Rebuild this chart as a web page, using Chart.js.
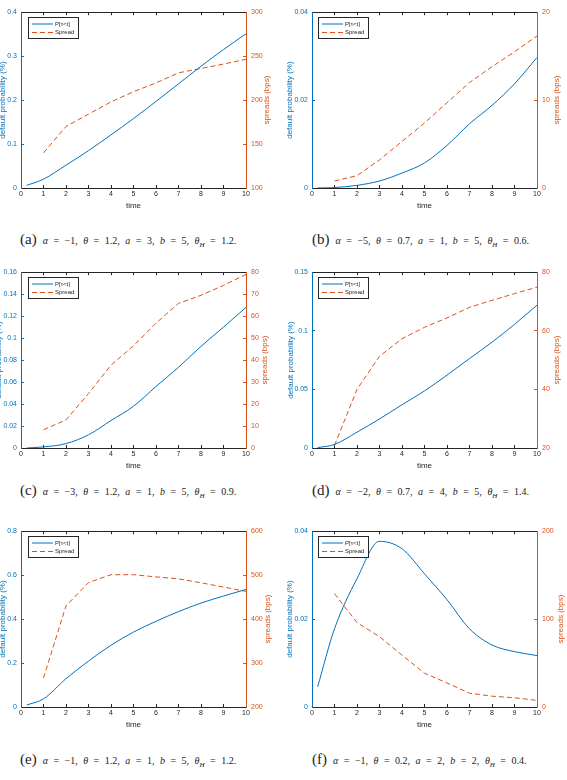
<!DOCTYPE html>
<html>
<head>
<meta charset="utf-8">
<script src="https://cdn.jsdelivr.net/npm/chart.js@4.4.1/dist/chart.umd.min.js"></script>
<style>
  html, body { margin: 0; padding: 0; background: #fff; }
  #page { position: relative; width: 567px; height: 780px; overflow: hidden; }
  .panel { position: absolute; }
  .caption { position: absolute; font-family: "Liberation Serif", "DejaVu Serif", serif; color: #222; white-space: nowrap; line-height: 20px; }
  .caption .tag { font-size: 15px; }
  .caption .eq { font-size: 10px; margin-left: 6px; word-spacing: 3px; }
  .caption sub { font-size: 7px; }
</style>
</head>
<body>
<div id="page">
  <canvas id="chartA" class="panel" style="left:0px;top:0px" width="285" height="215"></canvas>
  <canvas id="chartB" class="panel" style="left:285px;top:0px" width="282" height="215"></canvas>
  <canvas id="chartC" class="panel" style="left:0px;top:260px" width="285" height="215"></canvas>
  <canvas id="chartD" class="panel" style="left:285px;top:260px" width="282" height="215"></canvas>
  <canvas id="chartE" class="panel" style="left:0px;top:519px" width="285" height="215"></canvas>
  <canvas id="chartF" class="panel" style="left:285px;top:519px" width="282" height="215"></canvas>

  <div class="caption" style="left:20px;top:229px"><span class="tag">(a)</span><span class="eq"><i>α</i> = −1, <i>θ</i> = 1.2, <i>a</i> = 3, <i>b</i> = 5, <i>θ<sub>H</sub></i> = 1.2.</span></div>
  <div class="caption" style="left:312px;top:229px"><span class="tag">(b)</span><span class="eq"><i>α</i> = −5, <i>θ</i> = 0.7, <i>a</i> = 1, <i>b</i> = 5, <i>θ<sub>H</sub></i> = 0.6.</span></div>
  <div class="caption" style="left:20px;top:480px"><span class="tag">(c)</span><span class="eq"><i>α</i> = −3, <i>θ</i> = 1.2, <i>a</i> = 1, <i>b</i> = 5, <i>θ<sub>H</sub></i> = 0.9.</span></div>
  <div class="caption" style="left:312px;top:480px"><span class="tag">(d)</span><span class="eq"><i>α</i> = −2, <i>θ</i> = 0.7, <i>a</i> = 4, <i>b</i> = 5, <i>θ<sub>H</sub></i> = 1.4.</span></div>
  <div class="caption" style="left:20px;top:749px"><span class="tag">(e)</span><span class="eq"><i>α</i> = −1, <i>θ</i> = 1.2, <i>a</i> = 1, <i>b</i> = 5, <i>θ<sub>H</sub></i> = 1.2.</span></div>
  <div class="caption" style="left:312px;top:749px"><span class="tag">(f)</span><span class="eq"><i>α</i> = −1, <i>θ</i> = 0.2, <i>a</i> = 2, <i>b</i> = 2, <i>θ<sub>H</sub></i> = 0.4.</span></div>
</div>

<script>
// time grids
const timeP = [0.25, 1, 2, 3, 4, 5, 6, 7, 8, 9, 10];
const timeS = [1, 2, 3, 4, 5, 6, 7, 8, 9, 10];

// default probability P[tau<t] (%) per panel
const probA = [0.006, 0.02, 0.052, 0.085, 0.121, 0.158, 0.197, 0.237, 0.277, 0.315, 0.351];
const probB = [0, 0.0001, 0.0006, 0.0016, 0.0034, 0.0057, 0.0097, 0.0146, 0.0188, 0.0237, 0.0297];
const probC = [0, 0.001, 0.004, 0.012, 0.025, 0.038, 0.056, 0.0735, 0.0925, 0.110, 0.128];
const probD = [0.0003, 0.003, 0.0135, 0.0248, 0.0369, 0.0487, 0.0622, 0.0763, 0.0903, 0.1055, 0.1219];
const probE = [0.009, 0.037, 0.129, 0.209, 0.281, 0.341, 0.39, 0.434, 0.473, 0.505, 0.535];
const probF = [0.0046, 0.0178, 0.0292, 0.0377, 0.036, 0.0303, 0.0244, 0.0178, 0.0141, 0.0126, 0.0117];

// spreads (bps) per panel
const spreadA = [140, 170, 184, 198, 209.5, 219.6, 231, 236, 241, 246.5];
const spreadB = [0.8, 1.4, 3.2, 5.3, 7.4, 9.7, 12.0, 13.8, 15.5, 17.3];
const spreadC = [8.3, 12.8, 24.8, 37.7, 46.5, 56.8, 65.8, 69.5, 74, 79];
const spreadD = [20.9, 40, 51.3, 57.3, 61.2, 64.4, 68, 70.4, 72.7, 74.9];
const spreadE = [266, 430, 483, 501, 501, 496, 491.6, 482.6, 473, 463];
const spreadF = [129, 96, 80, 59, 38.5, 27.3, 15.7, 12.3, 10.5, 7.5];

// axis ranges [min, max, step]
const probAxisA = [0, 0.4, 0.1],   spreadAxisA = [100, 300, 50];
const probAxisB = [0, 0.04, 0.02], spreadAxisB = [0, 20, 10];
const probAxisC = [0, 0.16, 0.02], spreadAxisC = [0, 80, 10];
const probAxisD = [0, 0.15, 0.05], spreadAxisD = [20, 80, 20];
const probAxisE = [0, 0.8, 0.2],   spreadAxisE = [200, 600, 100];
const probAxisF = [0, 0.04, 0.02], spreadAxisF = [0, 200, 100];

const BLUE = '#0072BD';
const ORANGE = '#D95319';
const DARK = '#262626';

Chart.defaults.font.family = '"Liberation Sans", Arial, sans-serif';

const fmt = v => String(+Number(v).toFixed(4));

// right-hand axis title, reads bottom to top like the left one
const rightTitle = {
    id: 'rightTitle',
    afterDraw(chart, args, opts) {
        const { ctx, chartArea } = chart;
        ctx.save();
        ctx.translate(chartArea.right + opts.offset, (chartArea.top + chartArea.bottom) / 2);
        ctx.rotate(-Math.PI / 2);
        ctx.font = '8px "Liberation Sans", Arial, sans-serif';
        ctx.fillStyle = ORANGE;
        ctx.textAlign = 'center';
        ctx.textBaseline = 'middle';
        ctx.fillText(opts.text, 0, 0);
        ctx.restore();
    }
};

// boxed legend in the upper-left corner of the plot
const boxLegend = {
    id: 'boxLegend',
    afterDatasetsDraw(chart, args, opts) {
        const { ctx, chartArea } = chart;
        const x = Math.round(chartArea.left + opts.dx);
        const y = Math.round(chartArea.top + 5);
        const w = 50, h = 21;
        ctx.save();
        ctx.fillStyle = '#fff';
        ctx.fillRect(x, y, w, h);
        ctx.strokeStyle = DARK;
        ctx.lineWidth = 1;
        ctx.strokeRect(x + 0.5, y + 0.5, w, h);
        chart.data.datasets.forEach((ds, i) => {
            const ly = y + 7 + i * 8.5;
            ctx.strokeStyle = ds.borderColor;
            ctx.setLineDash(ds.borderDash || []);
            ctx.beginPath();
            ctx.moveTo(x + 4, ly);
            ctx.lineTo(x + 25, ly);
            ctx.stroke();
            ctx.setLineDash([]);
            ctx.fillStyle = DARK;
            ctx.font = '6px "Liberation Sans", Arial, sans-serif';
            ctx.textBaseline = 'middle';
            ctx.fillText(ds.label, x + 27, ly);
        });
        ctx.restore();
    }
};

function tickGrid(color) {
    return { drawOnChartArea: false, drawTicks: true, tickLength: -3, color: color, lineWidth: 1 };
}

function makeChart(p) {
    const canvas = document.getElementById(p.id);
    const rightW = canvas.width - p.leftW - 225;
    return new Chart(canvas, {
        type: 'line',
        data: {
            datasets: [
                {
                    label: 'P[τ<t]',
                    data: timeP.map((t, i) => ({ x: t, y: p.prob[i] })),
                    yAxisID: 'yP',
                    borderColor: BLUE,
                    borderWidth: 1,
                    pointRadius: 0,
                    cubicInterpolationMode: 'monotone',
                    fill: false
                },
                {
                    label: 'Spread',
                    data: timeS.map((t, i) => ({ x: t, y: p.spread[i] })),
                    yAxisID: 'yS',
                    borderColor: ORANGE,
                    borderWidth: 1,
                    borderDash: [5, 3],
                    pointRadius: 0,
                    tension: 0,
                    fill: false
                }
            ]
        },
        options: {
            responsive: false,
            animation: false,
            layout: { padding: { top: 10, left: 0, right: 0, bottom: 0 } },
            plugins: {
                legend: { display: false },
                tooltip: { enabled: false },
                boxLegend: { dx: p.legendDx },
                rightTitle: { text: 'spreads (bps)', offset: p.rightTitleOffset }
            },
            scales: {
                x: {
                    type: 'linear',
                    position: 'bottom',
                    min: 0, max: 10,
                    ticks: { stepSize: 1, color: DARK, font: { size: 7 }, padding: 5, callback: fmt },
                    grid: tickGrid(DARK),
                    border: { color: DARK, width: 1 },
                    title: { display: true, text: 'time', color: DARK, font: { size: 8 }, padding: { top: 0, bottom: 4 } },
                    afterFit: s => { s.height = 27; }
                },
                xTop: {
                    type: 'linear',
                    position: 'top',
                    min: 0, max: 10,
                    ticks: { display: false, stepSize: 1 },
                    grid: tickGrid(DARK),
                    border: { color: DARK, width: 1 },
                    afterFit: s => { s.height = 0; }
                },
                yP: {
                    type: 'linear',
                    position: 'left',
                    min: p.probAxis[0], max: p.probAxis[1],
                    ticks: { stepSize: p.probAxis[2], color: BLUE, font: { size: 7 }, padding: 7, callback: fmt },
                    grid: tickGrid(BLUE),
                    border: { color: BLUE, width: 1 },
                    title: { display: true, text: 'default probability (%)', color: BLUE, font: { size: 8 }, padding: { top: p.leftTitlePad, bottom: 0 } },
                    afterFit: s => { s.width = p.leftW; }
                },
                yS: {
                    type: 'linear',
                    position: 'right',
                    min: p.spreadAxis[0], max: p.spreadAxis[1],
                    ticks: { stepSize: p.spreadAxis[2], color: ORANGE, font: { size: 7 }, padding: 8, callback: fmt },
                    grid: tickGrid(ORANGE),
                    border: { color: ORANGE, width: 1 },
                    afterFit: s => { s.width = rightW; }
                }
            }
        },
        plugins: [boxLegend, rightTitle]
    });
}

const panels = [
    { id: 'chartA', prob: probA, spread: spreadA, probAxis: probAxisA, spreadAxis: spreadAxisA, leftW: 21, leftTitlePad: -2, legendDx: 7, rightTitleOffset: 21 },
    { id: 'chartB', prob: probB, spread: spreadB, probAxis: probAxisB, spreadAxis: spreadAxisB, leftW: 27, leftTitlePad: 0, legendDx: 6, rightTitleOffset: 20 },
    { id: 'chartC', prob: probC, spread: spreadC, probAxis: probAxisC, spreadAxis: spreadAxisC, leftW: 21, leftTitlePad: -6, legendDx: 7, rightTitleOffset: 19 },
    { id: 'chartD', prob: probD, spread: spreadD, probAxis: probAxisD, spreadAxis: spreadAxisD, leftW: 27, leftTitlePad: 1, legendDx: 6, rightTitleOffset: 20 },
    { id: 'chartE', prob: probE, spread: spreadE, probAxis: probAxisE, spreadAxis: spreadAxisE, leftW: 21, leftTitlePad: -2, legendDx: 7, rightTitleOffset: 22 },
    { id: 'chartF', prob: probF, spread: spreadF, probAxis: probAxisF, spreadAxis: spreadAxisF, leftW: 27, leftTitlePad: 0, legendDx: 6, rightTitleOffset: 24 }
];

panels.forEach(makeChart);
</script>
</body>
</html>
